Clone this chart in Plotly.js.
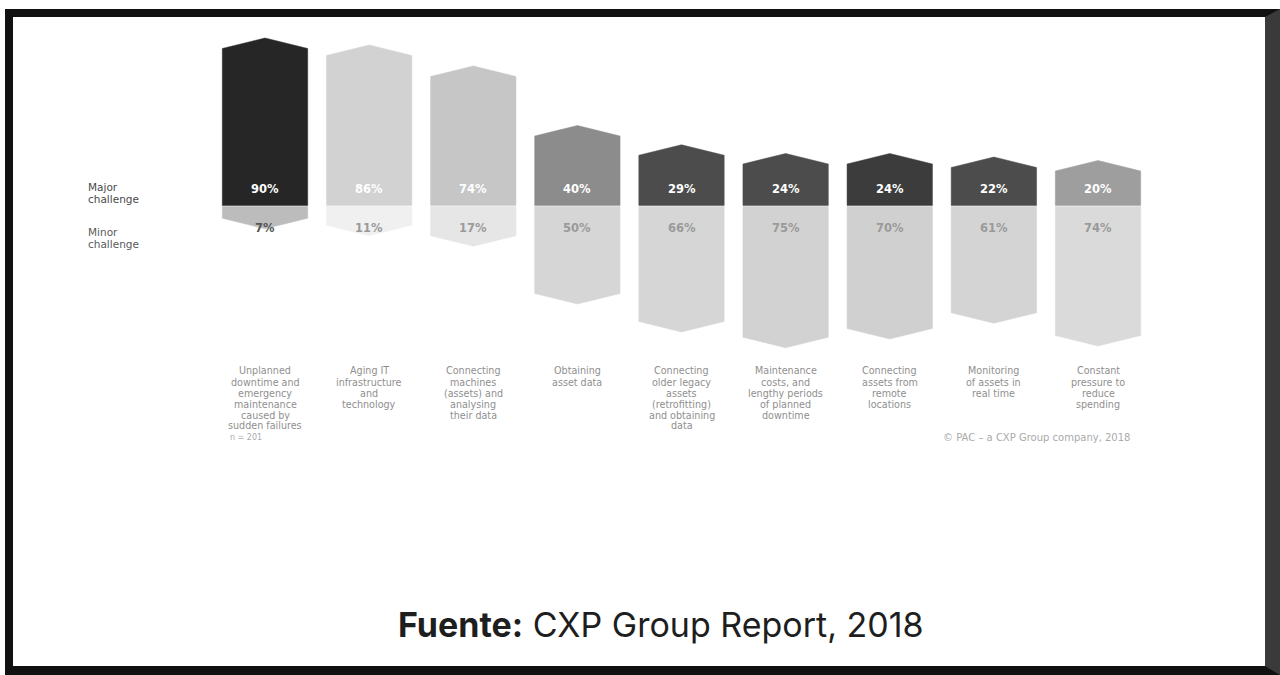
<!DOCTYPE html>
<html>
<head>
<meta charset="utf-8">
<script src="https://cdn.plot.ly/plotly-3.0.1.min.js"></script>
<style>
  html, body { margin: 0; padding: 0; background: #ffffff; }
  #chart { position: absolute; left: 0; top: 0; width: 1280px; height: 675px; }
  #frame { position: absolute; left: 5px; top: 9px; width: 1275px; height: 666px; box-sizing: border-box;
           border-left: 8px solid #111; border-top: 8px solid #111; border-right: 15px solid #3a3a3a;
           border-bottom: 9px solid #111; pointer-events: none; }
</style>
</head>
<body>
<div id="chart"></div>
<div id="frame"></div>
<script>
// ---- data ----
const categories = [
  "Unplanned<br>downtime and<br>emergency<br>maintenance<br>caused by<br>sudden failures",
  "Aging IT<br>infrastructure<br>and<br>technology",
  "Connecting<br>machines<br>(assets) and<br>analysing<br>their data",
  "Obtaining<br>asset data",
  "Connecting<br>older legacy<br>assets<br>(retrofitting)<br>and obtaining<br>data",
  "Maintenance<br>costs, and<br>lengthy periods<br>of planned<br>downtime",
  "Connecting<br>assets from<br>remote<br>locations",
  "Monitoring<br>of assets in<br>real time",
  "Constant<br>pressure to<br>reduce<br>spending"
];
const majorChallenge = [90, 86, 74, 40, 29, 24, 24, 22, 20];
const minorChallenge = [7, 11, 17, 50, 66, 75, 70, 61, 74];
const seriesNames = ["Major<br>challenge", "Minor<br>challenge"];
const sampleNote = "n = 201";
const copyrightNote = "© PAC – a CXP Group company, 2018";
const sourceNote = "<b>Fuente:</b> CXP Group Report, 2018";

// ---- styles ----
const majorColors = ['#262626', '#d2d2d2', '#c6c6c6', '#8c8c8c', '#4c4c4c', '#4c4c4c', '#3c3c3c', '#4c4c4c', '#9e9e9e'];
const minorColors = ['#bcbcbc', '#f0f0f0', '#e6e6e6', '#d6d6d6', '#d6d6d6', '#d2d2d2', '#d0d0d0', '#d4d4d4', '#dadada'];
const minorText = ['#555555', '#9a9a9a', '#9a9a9a', '#9a9a9a', '#9a9a9a', '#9a9a9a', '#9a9a9a', '#9a9a9a', '#9a9a9a'];
const halfW = 0.41;   // half bar width in category units
const tip = 6;        // arrow tip depth in value units
const gap = 0.35;

const traces = [];
categories.forEach((c, i) => {
  const v = majorChallenge[i];
  traces.push({
    type: 'scatter', mode: 'lines', fill: 'toself',
    x: [i - halfW, i - halfW, i, i + halfW, i + halfW, i - halfW],
    y: [gap, v, v + tip, v, gap, gap],
    fillcolor: majorColors[i], line: { color: majorColors[i], width: 0.5 },
    hoverinfo: 'skip', showlegend: false
  });
  const m = minorChallenge[i];
  traces.push({
    type: 'scatter', mode: 'lines', fill: 'toself',
    x: [i - halfW, i - halfW, i, i + halfW, i + halfW, i - halfW],
    y: [-gap, -m, -m - tip, -m, -gap, -gap],
    fillcolor: minorColors[i], line: { color: minorColors[i], width: 0.5 },
    hoverinfo: 'skip', showlegend: false
  });
});

const W = 1280, H = 675;
const py = p => 1 - p / H;
const annotations = [];
function multiLine(text, xPaperOrData, xref, topPx, lineH, font, xanchor) {
  text.split('<br>').forEach((line, k) => {
    annotations.push({
      x: xPaperOrData, y: py(topPx + k * lineH), xref: xref, yref: 'paper', text: line,
      showarrow: false, xanchor: xanchor, yanchor: 'middle', font: font
    });
  });
}
categories.forEach((c, i) => {
  annotations.push({
    x: i, y: 10, xref: 'x', yref: 'y', text: '<b>' + majorChallenge[i] + '%</b>',
    showarrow: false, yanchor: 'middle', font: { family: 'DejaVu Sans', size: 11.5, color: '#ffffff' }
  });
  annotations.push({
    x: i, y: -12.5, xref: 'x', yref: 'y', text: '<b>' + minorChallenge[i] + '%</b>',
    showarrow: false, yanchor: 'middle', font: { family: 'DejaVu Sans', size: 11.5, color: minorText[i] }
  });
  multiLine(c, i, 'x', 371, 11, { family: 'DejaVu Sans', size: 9.6, color: '#8f8f8f' }, 'center');
});
multiLine(seriesNames[0], 86 / W, 'paper', 187, 11.5, { family: 'DejaVu Sans', size: 10.5, color: '#4a4a4a' }, 'left');
multiLine(seriesNames[1], 86 / W, 'paper', 232, 11.5, { family: 'DejaVu Sans', size: 10.5, color: '#5a5a5a' }, 'left');
annotations.push({
  x: 228 / W, y: py(437), xref: 'paper', yref: 'paper', text: sampleNote,
  showarrow: false, xanchor: 'left', yanchor: 'middle',
  font: { family: 'DejaVu Sans', size: 8, color: '#aaaaaa' }
});
annotations.push({
  x: 1132 / W, y: py(437), xref: 'paper', yref: 'paper', text: copyrightNote,
  showarrow: false, xanchor: 'right', yanchor: 'middle',
  font: { family: 'DejaVu Sans', size: 10, color: '#aaaaaa' }
});
annotations.push({
  x: 661 / W, y: py(624), xref: 'paper', yref: 'paper', text: sourceNote,
  showarrow: false, xanchor: 'center', yanchor: 'middle',
  font: { family: 'Inter', size: 34, color: '#1e1e1e' }
});

const pxPerUnitX = 104.125, x0px = 265;
const pxPerUnitY = 1.75, basePx = 206;
const layout = {
  width: W, height: H,
  margin: { l: 0, r: 0, t: 0, b: 0, pad: 0 },
  paper_bgcolor: '#ffffff', plot_bgcolor: '#ffffff',
  xaxis: { visible: false, range: [-x0px / pxPerUnitX, (W - x0px) / pxPerUnitX], fixedrange: true },
  yaxis: { visible: false, range: [-(H - basePx) / pxPerUnitY, basePx / pxPerUnitY], fixedrange: true },
  showlegend: false,
  annotations: annotations
};
Plotly.newPlot('chart', traces, layout, { displayModeBar: false, staticPlot: true });
</script>
</body>
</html>
